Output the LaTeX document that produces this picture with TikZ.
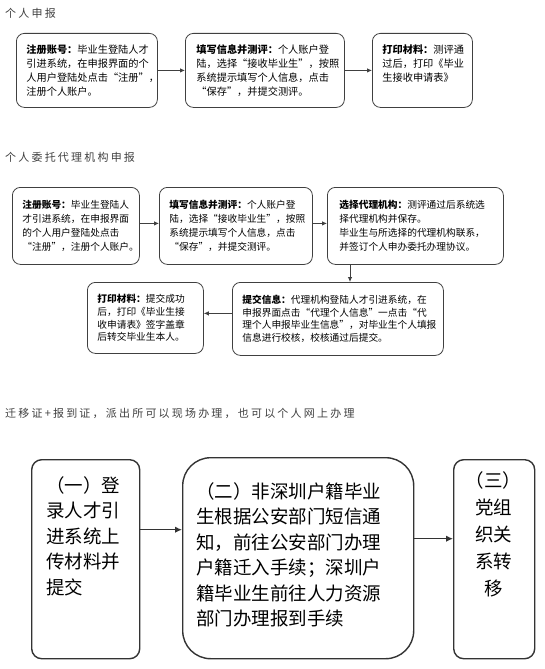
\documentclass[tikz,border=0pt]{standalone}
\usepackage{fontspec}
\setmainfont{Noto Sans CJK SC}
\newfontfamily\titlefont[LetterSpace=20]{Noto Sans CJK SC}
\usetikzlibrary{arrows.meta}
\tikzset{
  sbox/.style={draw=black!75, line width=0.8pt, rounded corners=8pt, align=left,
    anchor=north west, inner ysep=0pt, font=\fontsize{10.2}{14}\selectfont},
  mbox/.style={sbox, font=\fontsize{9.7}{14}\selectfont},
  dbox/.style={sbox, font=\fontsize{9.7}{12.7}\selectfont},
  bigbox/.style={draw=black!80, line width=1.4pt, rounded corners=10pt, anchor=north west, inner sep=0pt},
  bigtext/.style={inner sep=0pt, font=\fontsize{18.5}{25.5}\selectfont},
  sarr/.style={draw=black!75, line width=0.8pt, -{Latex[length=5pt,width=4.5pt]}},
  barr/.style={draw=black!80, line width=1.4pt, -{Latex[length=7pt,width=6.5pt]}},
  ttl/.style={anchor=west, inner sep=0pt, text=black!75, font=\titlefont\fontsize{11}{13}\selectfont}
}
\begin{document}
\begin{tikzpicture}[x=1pt,y=-1pt]
\useasboundingbox (0,0) rectangle (544,669);

% ---------- section 1 ----------
\node[ttl] (t1) at (5,13) {个人申报};
\node[sbox, inner xsep=10pt, text width=121pt, minimum height=74pt] (a1) at (16,33)
  {\textbf{注册账号：}毕业生登陆人才\\引进系统，在申报界面的个\\人用户登陆处点击“注册”，\\注册个人账户。};
\node[sbox, inner xsep=11pt, text width=137pt, minimum height=74pt] (a2) at (185,33)
  {\textbf{填写信息并测评：}个人账户登\\陆，选择“接收毕业生”，按照\\系统提示填写个人信息，点击\\“保存”，并提交测评。};
\node[sbox, inner xsep=10pt, text width=80pt, minimum height=74pt] (a3) at (372,33)
  {\textbf{打印材料：}测评通\\过后，打印《毕业\\生接收申请表》\\ \mbox{}};
\draw[sarr] (a1.east) -- (a2.west);
\draw[sarr] (a2.east) -- (a3.west);

% ---------- section 2 ----------
\node[ttl] (t2) at (5,157) {个人委托代理机构申报};
\node[mbox, inner xsep=10pt, text width=107pt, minimum height=77pt] (b1) at (12,187)
  {\textbf{注册账号：}毕业生登陆人\\才引进系统，在申报界面\\的个人用户登陆处点击\\“注册”，注册个人账户。};
\node[mbox, inner xsep=10pt, text width=133pt, minimum height=77pt] (b2) at (159,187)
  {\textbf{填写信息并测评：}个人账户登\\陆，选择“接收毕业生”，按照\\系统提示填写个人信息，点击\\“保存”，并提交测评。};
\node[mbox, inner xsep=12pt, text width=152pt, minimum height=77pt] (b3) at (327,187)
  {\textbf{选择代理机构：}测评通过后系统选\\择代理机构并保存。\\毕业生与所选择的代理机构联系，\\并签订个人申办委托办理协议。};
\node[dbox, inner xsep=10pt, text width=191pt, minimum height=73pt] (b4) at (232,282)
  {\textbf{提交信息：}代理机构登陆人才引进系统，在\\申报界面点击“代理个人信息”一点击“代\\理个人申报毕业生信息”，对毕业生个人填报\\信息进行校核，校核通过后提交。};
\node[dbox, inner xsep=10pt, text width=96pt, minimum height=71pt] (b5) at (87,282)
  {\textbf{打印材料：}提交成功\\后，打印《毕业生接\\收申请表》签字盖章\\后转交毕业生本人。};
\draw[sarr] ([yshift=2.5pt]b1.east) -- ([yshift=2.5pt]b2.west);
\draw[sarr] ([yshift=2.5pt]b2.east) -- ([yshift=2.5pt]b3.west);
\draw[sarr] ([xshift=23pt]b3.south west) -- ([xshift=118pt]b4.north west);
\draw[sarr] ([yshift=5.5pt]b4.west) -- ([yshift=4.5pt]b5.east);

% ---------- section 3 ----------
\node[ttl] (t3) at (5,413) {迁移证+报到证，派出所可以现场办理，也可以个人网上办理};
\node[bigbox, minimum width=108pt, minimum height=199pt] (c1) at (31,459) {};
\node[bigbox, rounded corners=28pt, minimum width=231pt, minimum height=201pt] (c2) at (182,457) {};
\node[bigbox, minimum width=81pt, minimum height=199pt] (c3) at (453,459) {};
\node[bigtext, anchor=west, align=left] (ct1) at (46,536)
  {（一）登\\录人才引\\进系统上\\传材料并\\提交};
\node[bigtext, anchor=west, align=left] (ct2) at (196,555)
  {（二）非深圳户籍毕业\\生根据公安部门短信通\\知，前往公安部门办理\\户籍迁入手续；深圳户\\籍毕业生前往人力资源\\部门办理报到手续};
\node[bigtext, align=center, font=\fontsize{18.5}{27}\selectfont] (ct3) at (493.5,534)
  {（三）\\党组\\织关\\系转\\移};
\draw[barr] ([yshift=29.5pt]c1.east) -- ([yshift=28.5pt]c2.west);
\draw[barr] ([yshift=19.5pt]c2.east) -- ([yshift=20.5pt]c3.west);
\end{tikzpicture}
\end{document}
